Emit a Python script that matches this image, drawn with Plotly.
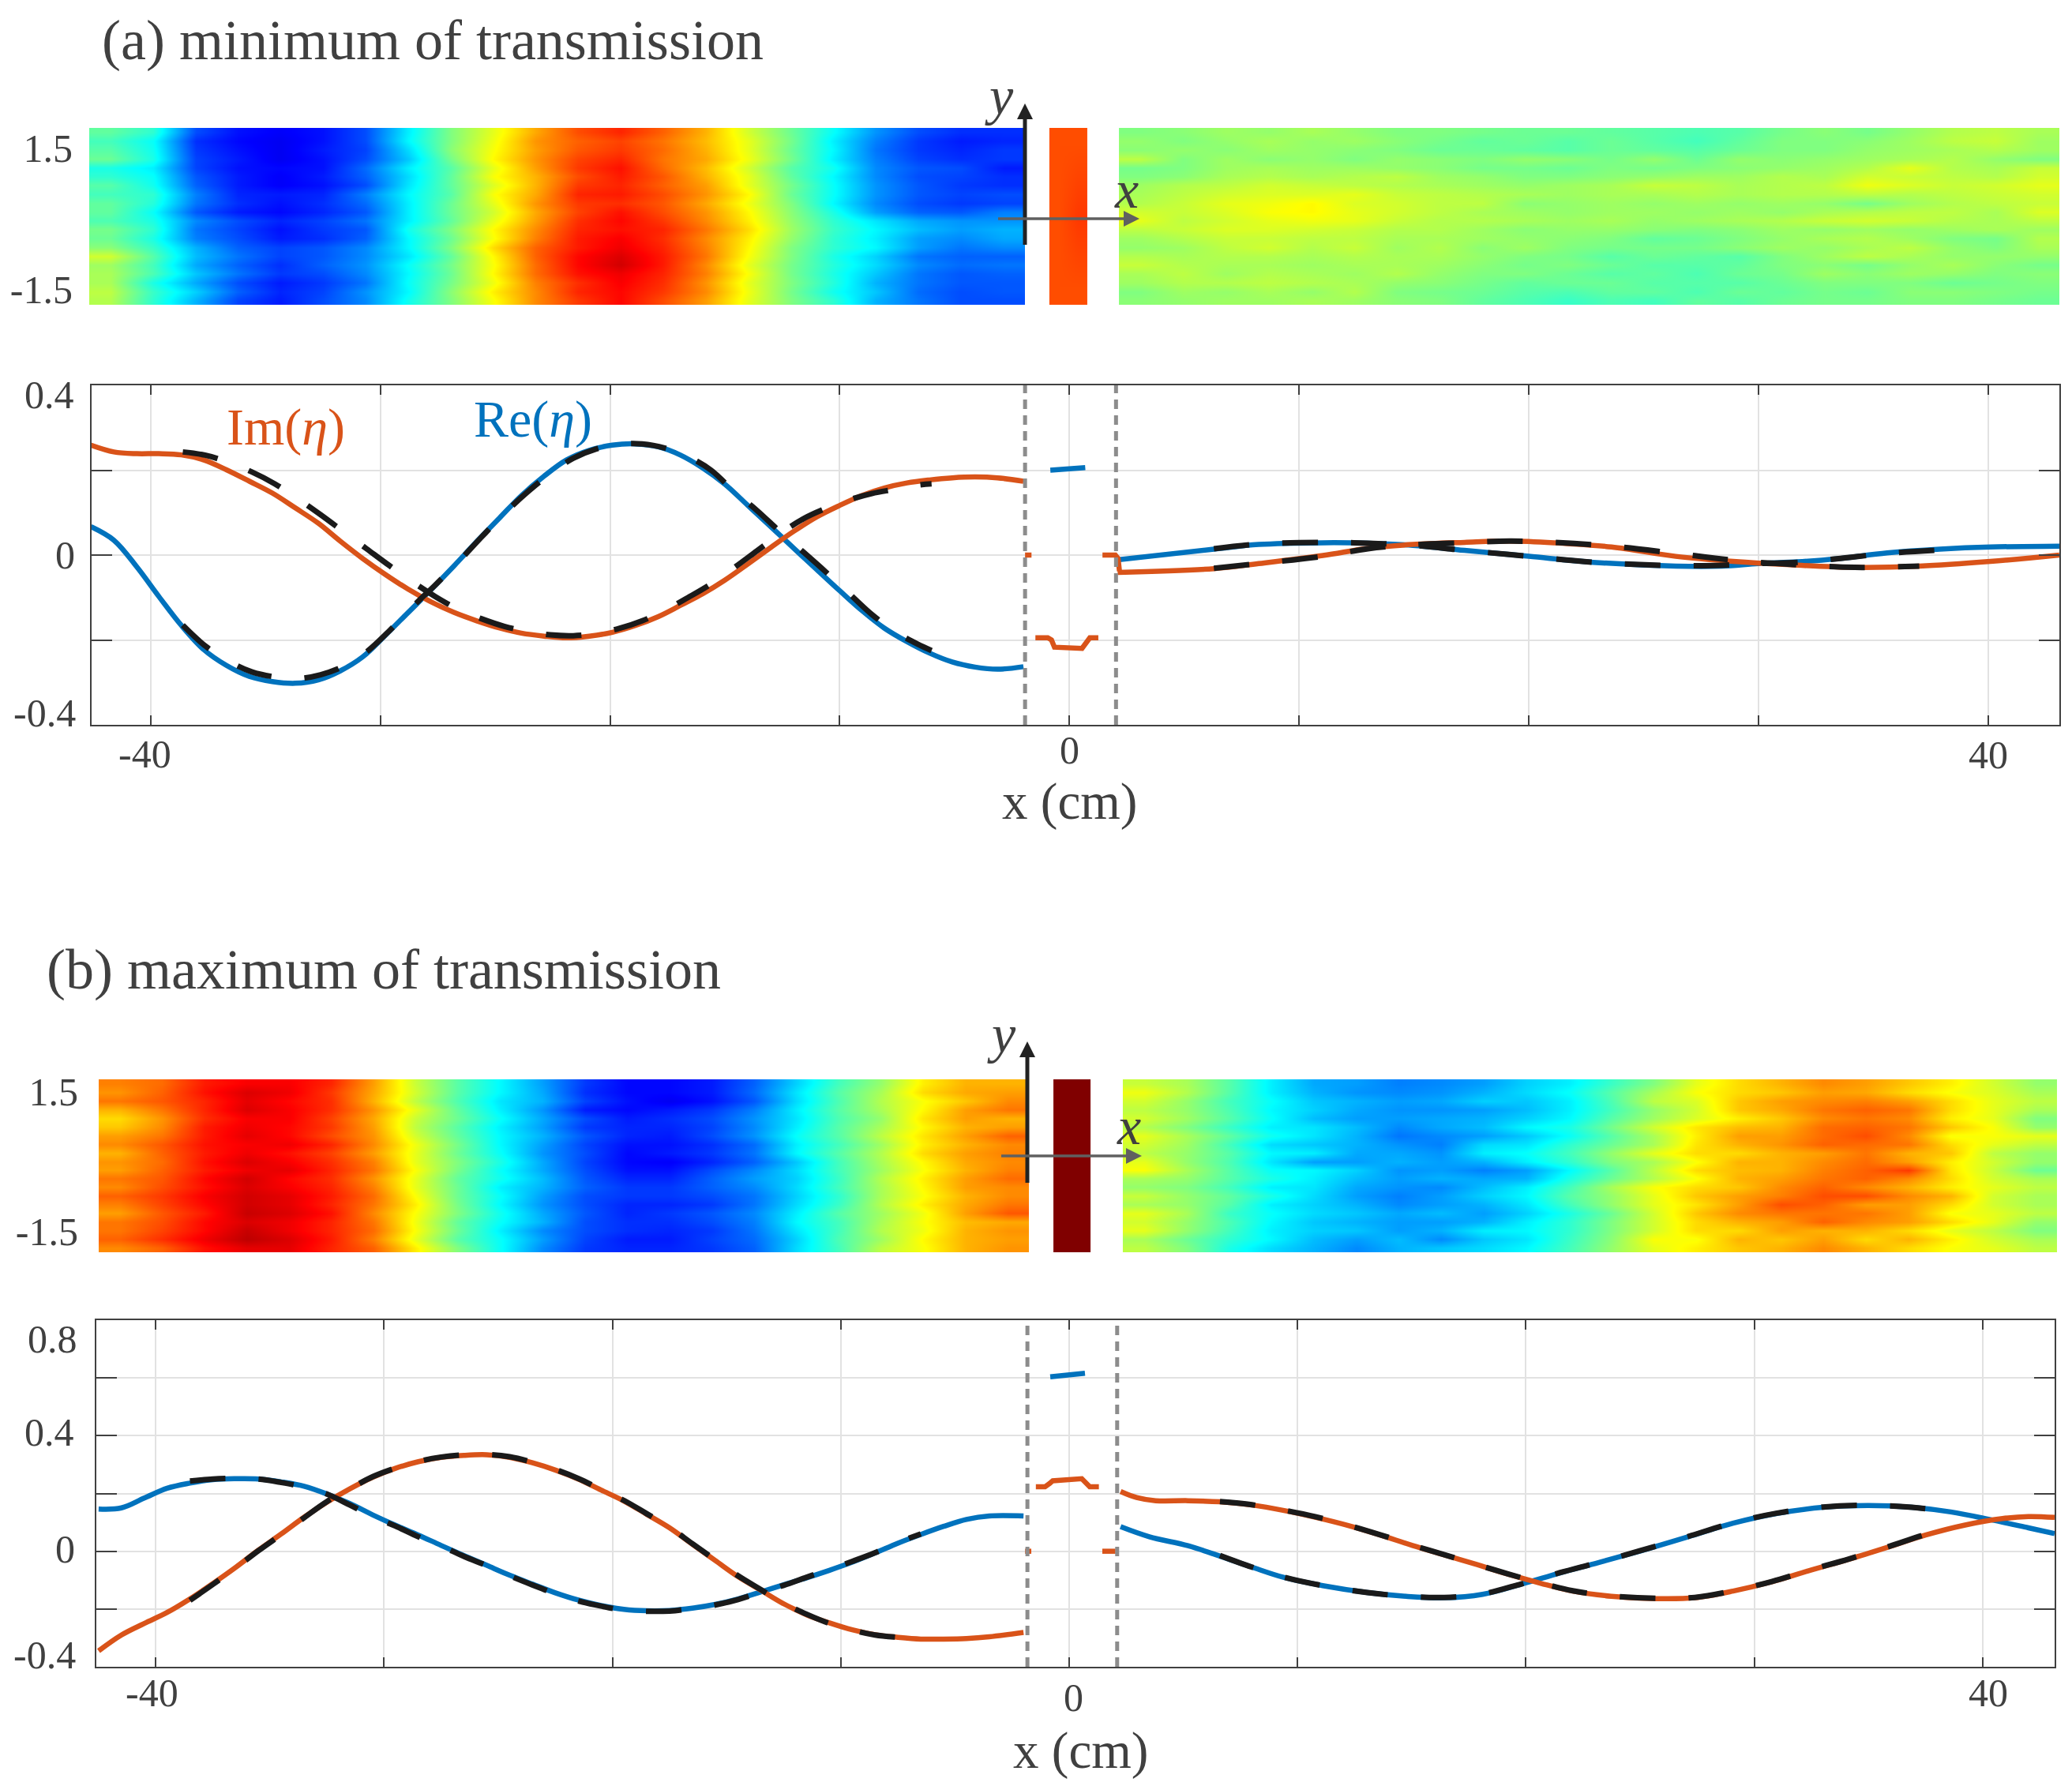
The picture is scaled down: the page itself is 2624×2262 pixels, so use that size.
"""Field maps and eta(x) profiles at the minimum and maximum of transmission."""
import numpy as np
import plotly.graph_objects as go

W, H = 2624, 2262
FONT = "Liberation Serif"
TXT = "#404040"
C_RE = "#0072BD"
C_IM = "#D95319"
C_EXP = "#1a1a1a"

JET = [[0, "rgb(0,0,143)"], [0.125, "rgb(0,0,255)"], [0.375, "rgb(0,255,255)"],
       [0.5, "rgb(128,255,128)"], [0.625, "rgb(255,255,0)"], [0.875, "rgb(255,0,0)"],
       [1, "rgb(128,0,0)"]]

# field maps, jet level 0-100, rows listed from top to bottom
MAP_A_LEFT = [
    [47,42,20,14,12,14,20,36,50,60,71,80,84,78,70,58,48,38,27,20,17,17],
    [44,38,17,13,11,14,20,37,50,61,73,78,81,76,69,60,49,36,25,18,15,16],
    [46,39,18,14,11,15,19,34,51,62,72,79,82,77,70,60,48,37,24,18,16,18],
    [48,40,19,15,11,14,20,32,49,63,73,81,84,76,71,61,49,36,25,19,17,18],
    [40,36,19,14,13,14,23,36,46,60,72,82,86,77,69,58,46,39,26,21,20,15],
    [42,38,21,15,12,15,22,34,47,62,70,80,85,79,70,60,47,37,26,20,19,17],
    [46,39,22,15,12,14,20,35,47,59,70,82,84,78,72,60,49,38,27,21,18,17],
    [44,42,25,16,15,16,25,37,46,62,71,84,85,80,73,63,48,38,27,21,19,20],
    [47,41,24,17,14,17,23,36,48,60,73,82,83,79,71,61,50,37,26,20,18,19],
    [47,38,21,15,13,16,21,36,48,58,71,81,86,80,73,63,51,40,28,22,21,25],
    [45,40,26,20,16,19,24,36,47,60,72,83,87,82,74,64,52,42,35,29,27,27],
    [49,42,24,19,14,18,21,39,50,63,74,84,86,84,76,66,53,43,37,31,28,30],
    [48,40,25,20,15,17,22,37,48,62,75,85,88,83,74,64,52,42,36,28,26,29],
    [51,43,30,22,19,21,26,37,50,66,78,85,89,84,75,63,50,42,37,28,24,26],
    [58,46,31,24,19,21,26,35,47,63,78,87,91,85,76,62,50,40,33,24,22,22],
    [53,44,29,22,17,22,27,38,49,62,77,87,92,85,74,60,49,41,34,26,23,24],
    [54,45,32,24,18,20,26,37,48,63,77,86,89,84,75,62,49,40,32,24,21,22],
    [54,40,29,20,15,18,24,38,49,61,75,83,88,83,73,60,50,41,30,24,21,21],
    [56,43,33,22,16,19,27,37,51,64,74,84,87,82,74,61,49,39,32,23,20,21],
    [55,42,30,19,15,20,26,39,50,62,74,82,87,80,72,60,50,42,30,24,20,20],
]
MAP_A_MID = [[80,80],[80,81],[80,82],[80,81],[80,80]]
MAP_A_RIGHT = [
    [50,51,53,52,54,52,50,50,49,48,48,47,46,45,46,49,51,49,52,55,56,54],
    [52,50,52,54,52,53,51,49,47,48,46,48,46,44,47,50,50,51,53,56,57,53],
    [51,52,51,53,52,51,50,48,48,47,46,48,47,46,48,50,50,52,53,54,55,53],
    [56,50,53,51,52,50,52,51,50,52,51,49,52,48,52,51,52,53,54,55,52,50],
    [49,50,53,54,53,53,52,51,49,49,48,50,49,50,51,52,53,55,60,55,54,57],
    [50,51,54,55,54,55,56,53,52,50,50,51,52,53,53,55,54,58,57,56,55,58],
    [53,55,56,58,57,56,55,54,53,52,53,54,57,56,54,55,56,61,59,57,58,60],
    [54,56,58,59,59,60,57,56,55,54,53,54,54,55,54,55,55,56,55,56,57,58],
    [55,57,60,61,63,59,58,56,56,51,52,53,52,53,52,53,52,49,53,55,56,57],
    [58,57,59,62,63,60,58,56,54,53,52,53,53,52,53,52,54,55,56,56,54,59],
    [60,56,58,60,61,60,57,55,55,54,53,54,52,53,54,55,57,58,57,55,54,56],
    [56,57,59,59,58,57,55,55,53,51,52,52,51,50,51,53,52,53,52,53,54,53],
    [53,55,57,57,56,56,54,54,53,52,51,50,47,48,50,52,54,55,53,50,49,55],
    [52,53,56,58,55,57,53,55,51,53,50,49,49,49,51,53,52,54,56,52,50,54],
    [55,54,55,55,54,55,54,54,52,50,49,46,48,47,46,50,53,56,54,52,52,52],
    [57,55,54,54,53,54,54,53,51,49,50,48,46,46,47,50,51,49,52,54,51,49],
    [54,56,53,55,54,53,55,52,50,50,48,46,47,45,48,49,53,51,53,52,50,51],
    [53,55,55,56,55,54,52,51,49,47,48,48,46,46,46,48,50,50,50,48,49,50],
    [50,53,52,54,52,55,50,49,48,46,45,47,47,45,48,47,49,48,51,51,50,49],
    [51,52,53,53,54,53,51,50,47,45,43,45,44,47,46,48,49,49,50,50,49,48],
]
MAP_B_LEFT = [
    [75,77,85,88,88,84,72,57,46,37,28,18,13,13,15,22,33,44,52,64,70,70],
    [73,78,86,91,89,82,71,58,46,37,29,17,13,13,15,23,35,46,54,66,71,72],
    [76,79,84,90,87,83,70,56,45,35,30,19,14,11,14,21,34,45,55,62,68,74],
    [70,76,84,91,88,83,73,60,47,36,27,15,13,15,18,25,36,46,54,63,72,76],
    [66,73,83,88,88,81,71,57,48,38,29,20,15,17,20,27,35,45,52,65,72,70],
    [68,74,85,89,87,82,72,56,46,36,28,18,16,16,19,26,36,46,54,63,70,72],
    [72,76,85,90,87,80,73,58,47,37,30,21,16,15,20,27,38,46,56,65,72,78],
    [74,79,86,88,89,84,74,61,49,37,28,19,14,14,17,23,36,44,53,64,70,74],
    [70,78,85,89,86,81,72,60,48,38,27,20,13,15,18,24,37,46,55,66,72,75],
    [73,77,86,91,88,83,75,60,50,40,29,19,13,12,16,22,32,44,54,63,71,74],
    [72,78,85,89,90,84,76,62,49,38,29,20,14,14,20,26,34,44,53,62,70,75],
    [76,79,87,92,87,83,73,60,47,39,31,21,16,16,22,28,33,43,55,64,72,77],
    [74,80,86,91,88,84,75,60,48,36,30,22,18,18,22,26,34,44,54,63,72,74],
    [78,82,88,92,90,85,77,62,48,38,28,20,18,18,20,24,33,42,54,62,70,74],
    [75,81,87,92,90,84,76,64,49,37,27,20,16,16,18,24,34,43,55,64,71,76],
    [72,79,85,93,91,86,74,62,50,39,29,21,16,18,21,26,36,46,53,61,72,79],
    [76,80,87,91,89,84,76,61,47,38,30,20,17,17,20,25,37,44,54,62,69,71],
    [76,81,87,93,89,84,77,62,48,36,26,20,17,16,18,24,35,44,55,61,70,73],
    [78,83,89,94,91,85,75,60,46,38,28,19,15,15,19,23,33,45,53,63,70,72],
    [74,78,86,90,90,84,78,64,50,38,26,18,16,16,18,22,34,44,56,62,70,73],
]
MAP_B_MID = [[100,100],[100,100]]
MAP_B_RIGHT = [
    [57,54,46,36,29,28,25,26,28,33,36,43,50,60,66,70,74,72,68,64,58,52],
    [61,55,46,36,30,27,26,27,30,34,38,46,54,62,66,68,72,71,66,62,59,54],
    [58,52,44,38,32,30,28,29,33,32,36,45,56,59,68,72,74,75,72,66,60,56],
    [56,52,45,37,33,29,27,27,28,31,36,44,52,58,68,71,76,78,76,66,60,54],
    [58,53,46,38,31,28,28,29,30,33,37,46,53,59,64,68,74,76,74,64,60,50],
    [55,50,43,36,35,31,26,29,31,37,40,49,58,65,69,70,77,78,76,68,62,52],
    [60,54,47,39,35,30,24,26,28,32,38,46,54,64,72,72,77,80,74,62,62,60],
    [58,53,44,34,32,30,27,25,34,35,42,48,54,65,70,73,78,77,76,66,60,56],
    [56,52,46,37,36,29,29,27,36,38,44,52,60,66,66,70,72,76,70,68,56,52],
    [60,52,45,35,28,28,30,28,30,36,42,50,54,62,70,70,74,77,72,64,58,52],
    [62,54,46,38,37,33,27,28,25,28,37,46,56,66,69,70,75,78,82,65,57,48],
    [54,52,46,40,36,31,28,30,29,30,40,48,55,62,70,72,76,78,74,66,58,54],
    [52,50,44,36,35,29,27,26,31,36,44,54,62,66,68,74,78,74,70,64,60,56],
    [57,52,47,40,34,28,25,28,33,37,46,52,60,68,72,75,80,80,74,70,58,54],
    [54,52,46,36,33,30,26,28,30,35,44,52,60,65,72,80,78,72,72,66,58,54],
    [60,54,43,38,34,32,29,31,28,33,40,48,58,68,74,76,76,76,72,62,60,56],
    [58,52,45,37,32,30,28,28,30,36,42,50,58,66,70,72,78,74,72,66,60,52],
    [60,52,44,36,33,32,28,30,36,37,42,50,58,66,66,72,70,70,66,60,56,50],
    [54,48,42,37,31,28,31,26,32,35,43,51,62,62,70,68,72,66,70,64,58,54],
    [56,50,40,34,30,26,30,32,34,37,44,52,60,64,68,70,74,70,66,62,60,56],
]

# panel (a) profiles
A_X_L = [-42.6,-41.6,-40.6,-39.65,-38.66,-37.68,-36.7,-35.7,-34.7,-33.7,-32.7,-31.75,-30.77,-29.8,
         -28.8,-27.8,-26.8,-25.8,-24.8,-23.86,-22.87,-21.9,-20.9,-19.9,-18.9,-17.9,-16.95,-15.96,
         -15.0,-14.0,-13.0,-12.0,-11.0,-10.0,-9.05,-8.06,-7.07,-6.09,-5.1,-4.11,-3.13,-2.0]
A_RE_L = [.067,.035,-.028,-.097,-.166,-.223,-.26,-.286,-.298,-.302,-.294,-.273,-.24,-.19,-.136,
          -.082,-.026,.032,.088,.14,.186,.224,.247,.259,.262,.255,.236,.205,.167,.117,.067,.016,
          -.034,-.084,-.13,-.172,-.204,-.231,-.252,-.264,-.269,-.263]
A_IM_L = [.259,.243,.239,.239,.236,.224,.201,.174,.146,.111,.075,.033,-.008,-.045,-.08,-.11,
          -.135,-.155,-.172,-.184,-.191,-.195,-.191,-.182,-.166,-.145,-.119,-.091,-.059,-.021,
          .018,.056,.09,.117,.14,.158,.17,.177,.182,.184,.182,.174]
A_XE_L = [-38.6,-37.6,-36.6,-35.6,-34.6,-33.6,-32.6,-31.6,-30.6,-29.6,-28.6,-27.6,-26.6,-25.6,
          -24.6,-23.6,-22.6,-21.6,-20.6,-19.6,-18.6,-17.6,-16.6,-15.6,-14.6,-13.6,-12.6,-11.6,
          -10.6,-9.6,-8.6,-7.6,-6.6,-6.0]
A_RE_EXP_L = [-.165,-.215,-.25,-.275,-.287,-.291,-.282,-.262,-.228,-.178,-.122,-.07,-.016,.042,
              .098,.148,.192,.228,.25,.261,.262,.252,.232,.2,.15,.105,.055,.008,-.04,-.09,-.14,
              -.18,-.21,-.225]
A_IM_EXP_L = [.243,.235,.218,.196,.168,.133,.095,.055,.015,-.025,-.063,-.098,-.128,-.15,-.168,-.18,
              -.188,-.19,-.185,-.173,-.155,-.13,-.1,-.068,-.03,.01,.05,.085,.11,.13,.145,.155,
              .165,.168]
A_X_MID_RE = [-.83, .69]
A_RE_MID = [.2, .206]
A_X_MID_IM = [-1.48,-.94,-.78,-.65,.55,.72,.89,1.26]
A_IM_MID = [-.195,-.195,-.2,-.217,-.22,-.205,-.195,-.195]
A_X_EDGE_L = [-1.93, -1.65]
A_X_EDGE_R = [1.44, 2.0, 2.12, 2.18]
A_IM_EDGE_R = [0, 0, -.008, -.038]
A_EDGE_L = [0, 0]
A_X_RE_R = [2.1,6.29,8.24,11.04,13.0,14.95,17.2,20,22.8,26.4,28.4,30,31.7,33.4,35.6,37.9,40.1,43.1]
A_RE_R = [-.011,.014,.025,.029,.028,.023,.011,-.003,-.017,-.026,-.026,-.02,-.016,-.009,.005,.014,.019,.021]
A_X_IM_R = [2.1,6.29,8.24,11.04,13,14.95,17.2,19.15,21.1,23.6,26.4,28.9,31.4,34.2,37,40.1,43.1]
A_IM_R = [-.041,-.032,-.02,-.001,.016,.025,.03,.033,.029,.019,-.003,-.015,-.023,-.029,-.026,-.015,0]
A_XE_RE_R = [6.29,8.24,11.04,13.0,14.95,17.2,20,22.8,26.4,28.4,30,31.7,33.4,35.6,37.9]
A_RE_EXP_R = [.015,.026,.03,.028,.023,.011,-.003,-.017,-.025,-.024,-.02,-.017,-.009,.004,.012]
A_XE_IM_R = [6.29,8.24,11.04,13,14.95,17.2,19.15,21.1,23.6,26.4,28.9,31.4,34.2,37]
A_IM_EXP_R = [-.031,-.02,-.003,.015,.024,.029,.033,.03,.021,.004,-.012,-.022,-.029,-.026]

# panel (b) profiles
B_X_L = [-42.5,-41.5,-40.5,-39.5,-38.5,-37.5,-36.5,-35.5,-34.5,-33.5,-32.5,-31.5,-30.5,-29.5,
         -28.5,-27.5,-26.5,-25.5,-24.5,-23.5,-22.5,-21.5,-20.5,-19.5,-18.5,-17.5,-16.5,-15.5,
         -14.5,-13.5,-12.5,-11.5,-10.5,-9.5,-8.5,-7.5,-6.5,-5.5,-4.5,-3.5,-2.0]
B_RE_L = [.146,.15,.184,.218,.236,.248,.251,.25,.24,.225,.198,.165,.126,.09,.056,.02,-.015,
          -.049,-.083,-.114,-.144,-.169,-.188,-.201,-.206,-.205,-.197,-.184,-.165,-.141,-.116,
          -.092,-.066,-.038,-.006,.028,.058,.086,.11,.122,.122]
B_IM_L = [-.345,-.29,-.25,-.212,-.165,-.112,-.056,.004,.06,.118,.17,.216,.256,.287,.31,.325,
          .332,.334,.325,.306,.281,.25,.212,.174,.128,.081,.024,-.032,-.088,-.135,-.182,-.22,
          -.248,-.272,-.289,-.298,-.304,-.304,-.302,-.296,-.281]
B_XE_L = [-38.5,-37.5,-36.5,-35.5,-34.5,-33.5,-32.5,-31.5,-30.5,-29.5,-28.5,-27.5,-26.5,-25.5,
          -24.5,-23.5,-22.5,-21.5,-20.5,-19.5,-18.5,-17.5,-16.5,-15.5,-14.5,-13.5,-12.5,-11.5,
          -10.5,-9.5,-8.5,-7.5,-6.5]
B_RE_EXP_L = [.243,.25,.252,.25,.238,.222,.198,.16,.12,.087,.05,.018,-.018,-.05,-.085,-.117,-.147,
              -.172,-.19,-.204,-.208,-.207,-.198,-.186,-.167,-.142,-.118,-.09,-.063,-.035,-.005,
              .03,.06]
B_IM_EXP_L = [-.17,-.115,-.058,.002,.058,.116,.172,.216,.258,.288,.311,.326,.334,.335,.327,.308,
              .283,.252,.214,.176,.13,.083,.026,-.03,-.085,-.133,-.18,-.218,-.25,-.273,-.29,-.298,-.303]
B_X_MID_RE = [-.83, .69]
B_RE_MID = [.604, .616]
B_X_MID_IM = [-1.46,-1.06,-.85,-.72,.55,.72,.9,1.3]
B_IM_MID = [.223,.223,.235,.244,.251,.24,.223,.223]
B_X_EDGE_L = [-1.93, -1.66]
B_X_EDGE_R = [1.45, 2.03]
B_EDGE = [0, 0]
B_X_IM_R = [2.25,2.95,3.79,5.2,6.6,8.0,9.41,10.81,12.22,13.62,15.03,16.43,17.84,19.24,20.65,22.05,
            23.74,25.7,27.39,29.07,30.76,32.44,34.13,35.81,37.5,39.19,40.87,42,43.15]
B_IM_R = [.207,.186,.175,.175,.171,.16,.141,.117,.089,.056,.02,-.013,-.046,-.08,-.111,-.138,-.156,
          -.164,-.161,-.138,-.106,-.066,-.028,.013,.056,.09,.113,.12,.117]
B_X_RE_R = [2.25,3.51,5.2,6.6,8,9.41,11.1,13.06,14.75,16.43,18.1,19.8,21.5,23.2,25.1,27.1,29.07,31,
            33,35,36.9,38.6,40.3,42,43.15]
B_RE_R = [.085,.05,.019,-.017,-.055,-.091,-.119,-.143,-.156,-.161,-.149,-.114,-.075,-.039,.003,.05,
          .097,.131,.152,.158,.152,.136,.11,.081,.061]
B_XE_RE_R = [6.6,8,9.41,11.1,13.06,14.75,16.43,18.1,19.8,21.5,23.2,25.1,27.1,29.07,31,33,35,36.9,38.6]
B_RE_EXP_R = [-.015,-.055,-.09,-.119,-.143,-.156,-.16,-.148,-.113,-.074,-.038,.004,.051,.098,.132,
              .153,.159,.152,.137]
B_XE_IM_R = [6.6,8,9.41,10.81,12.22,13.62,15.03,16.43,17.84,19.24,20.65,22.05,23.74,25.7,27.39,29.07,
             30.76,32.44,34.13,35.81,37.5,38.6]
B_IM_EXP_R = [.172,.161,.142,.119,.09,.057,.021,-.012,-.046,-.079,-.11,-.137,-.155,-.163,-.16,-.137,
              -.105,-.065,-.027,.014,.058,.08]

X_TICKS = [-40, -30, -20, -10, 0, 10, 20, 30, 40]
A_Y_TICKS = [-0.4, -0.2, 0, 0.2, 0.4]
B_Y_TICKS = [-0.4, -0.2, 0, 0.2, 0.4, 0.6, 0.8]
STRIP_TICKS = [-1.5, 1.5]
STRIP_LABELS = ["-1.5", "1.5"]


def px(x):
    return x / W


def py(y):
    return 1 - y / H


fig = go.Figure()


def add_map(z, x_from, x_to, y_top, y_bot, n):
    z = np.array(z)
    fig.add_trace(go.Heatmap(
        z=z, x=np.linspace(x_from, x_to, z.shape[1] + 1), y=np.linspace(y_top, y_bot, z.shape[0] + 1),
        zmin=0, zmax=100, zsmooth="best", colorscale=JET, showscale=False,
        xaxis=f"x{n}", yaxis=f"y{n}", hoverinfo="skip"))


def add_line(x, y, color, n, dashed=False, shape="spline", width=6.5):
    line = dict(color=color, width=width, shape=shape)
    if dashed:
        line["dash"] = "45px,42px"
        line["width"] = 7
    fig.add_trace(go.Scatter(x=x, y=y, mode="lines", line=line, showlegend=False,
                             xaxis=f"x{n}", yaxis=f"y{n}", hoverinfo="skip"))


# (a) field map
A_TOP, A_BOT = 1.917, -1.817
add_map(MAP_A_LEFT, -42.68, -1.93, A_TOP, A_BOT, 1)
add_map(MAP_A_MID, -0.86, 0.79, A_TOP, A_BOT, 1)
add_map(MAP_A_RIGHT, 2.17, 43.13, A_TOP, A_BOT, 1)

# (a) profiles
add_line(A_X_L, A_RE_L, C_RE, 2)
add_line(A_X_L, A_IM_L, C_IM, 2)
add_line(A_X_RE_R, A_RE_R, C_RE, 2)
add_line(A_X_IM_R, A_IM_R, C_IM, 2)
add_line(A_X_MID_RE, A_RE_MID, C_RE, 2, shape="linear")
add_line(A_X_MID_IM, A_IM_MID, C_IM, 2, shape="linear")
add_line(A_X_EDGE_L, A_EDGE_L, C_IM, 2, shape="linear")
add_line(A_X_EDGE_R, A_IM_EDGE_R, C_IM, 2, shape="linear")
add_line(A_XE_L, A_RE_EXP_L, C_EXP, 2, dashed=True)
add_line(A_XE_L, A_IM_EXP_L, C_EXP, 2, dashed=True)
add_line(A_XE_RE_R, A_RE_EXP_R, C_EXP, 2, dashed=True)
add_line(A_XE_IM_R, A_IM_EXP_R, C_EXP, 2, dashed=True)

# (b) field map
B_TOP, B_BOT = 1.772, -1.959
add_map(MAP_B_LEFT, -42.5, -1.76, B_TOP, B_BOT, 3)
add_map(MAP_B_MID, -0.69, 0.93, B_TOP, B_BOT, 3)
add_map(MAP_B_RIGHT, 2.35, 43.26, B_TOP, B_BOT, 3)

# (b) profiles
add_line(B_X_L, B_RE_L, C_RE, 4)
add_line(B_X_L, B_IM_L, C_IM, 4)
add_line(B_X_RE_R, B_RE_R, C_RE, 4)
add_line(B_X_IM_R, B_IM_R, C_IM, 4)
add_line(B_X_MID_RE, B_RE_MID, C_RE, 4, shape="linear")
add_line(B_X_MID_IM, B_IM_MID, C_IM, 4, shape="linear")
add_line(B_X_EDGE_L, B_EDGE, C_IM, 4, shape="linear")
add_line(B_X_EDGE_R, B_EDGE, C_IM, 4, shape="linear")
add_line(B_XE_L, B_RE_EXP_L, C_EXP, 4, dashed=True)
add_line(B_XE_L, B_IM_EXP_L, C_EXP, 4, dashed=True)
add_line(B_XE_RE_R, B_RE_EXP_R, C_EXP, 4, dashed=True)
add_line(B_XE_IM_R, B_IM_EXP_R, C_EXP, 4, dashed=True)


def strip_axes(n, left, right, top, bot, xr, yr, standoff):
    xa = dict(domain=[px(left), px(right)], range=xr, visible=False, anchor=f"y{n}")
    ya = dict(domain=[py(bot), py(top)], range=yr, showgrid=False, zeroline=False, showline=False,
              ticks="", tickmode="array", tickvals=STRIP_TICKS, ticktext=STRIP_LABELS, anchor=f"x{n}",
              ticklabelstandoff=standoff, tickfont=dict(family=FONT, size=50, color=TXT))
    return xa, ya


def plot_axes(n, left, right, top, bot, xr, yr, yticks):
    common = dict(showgrid=True, gridcolor="#e2e2e2", gridwidth=2, zeroline=False, showline=True,
                  linecolor="#404040", linewidth=2, mirror="ticks", ticks="inside",
                  tickcolor="#404040", tickwidth=2, showticklabels=False)
    xa = dict(domain=[px(left), px(right)], range=xr, tickmode="array", tickvals=X_TICKS, ticklen=12,
              anchor=f"y{n}", **common)
    ya = dict(domain=[py(bot), py(top)], range=yr, tickmode="array", tickvals=yticks, ticklen=26,
              anchor=f"x{n}", **common)
    return xa, ya


xa1, ya1 = strip_axes(1, 113, 2608, 162, 386, [-42.68, 43.13], [A_BOT, A_TOP], 20)
xa2, ya2 = plot_axes(2, 116, 2608, 488, 918, [-42.57, 43.1], [-0.4, 0.4], A_Y_TICKS)
xa3, ya3 = strip_axes(3, 125, 2605, 1367, 1586, [-42.5, 43.26], [B_BOT, B_TOP], 25)
xa4, ya4 = plot_axes(4, 122, 2602, 1672, 2111, [-42.6, 43.15], [-0.4, 0.8], B_Y_TICKS)


def txt(text, x, y, size, color=TXT, anchor="center"):
    return dict(text=text, x=px(x), y=py(y), xref="paper", yref="paper", showarrow=False,
                xanchor=anchor, yanchor="middle", font=dict(family=FONT, size=size, color=color))


annotations = [
    txt("(a) minimum of transmission", 127, 51, 72, anchor="left"),
    txt("(b) maximum of transmission", 57, 1228, 72, anchor="left"),
    txt("Im(<i>η</i>)", 362, 541, 66, C_IM),
    txt("Re(<i>η</i>)", 675, 531, 66, C_RE),
    txt("0.4", 62, 500, 50), txt("0", 82, 703, 50), txt("-0.4", 56, 903, 50),
    txt("-40", 183, 955, 50), txt("0", 1354, 950, 50), txt("40", 2518, 956, 50),
    txt("x (cm)", 1354, 1015, 65),
    txt("0.8", 66, 1696, 50), txt("0.4", 62, 1814, 50), txt("0", 82, 1962, 50), txt("-0.4", 56, 2096, 50),
    txt("-40", 192, 2144, 50), txt("0", 1359, 2150, 50), txt("40", 2518, 2144, 50),
    txt("x (cm)", 1368, 2217, 65),
    txt("<i>y</i>", 1265, 122, 68), txt("<i>x</i>", 1426, 240, 68),
    txt("<i>y</i>", 1268, 1310, 68), txt("<i>x</i>", 1429, 1426, 68),
]


def arrow_shapes(x_y, y_from, y_tip, x_from, x_tip, y_x):
    """y arrow (black) and x arrow (grey) over a field map, in page pixels."""
    out = []
    out.append(dict(type="line", xref="paper", yref="paper", x0=px(x_y), x1=px(x_y),
                    y0=py(y_from), y1=py(y_tip + 15), line=dict(color="#222222", width=5)))
    out.append(dict(type="path", xref="paper", yref="paper", fillcolor="#222222", line=dict(width=0),
                    path=f"M {px(x_y - 10)} {py(y_tip + 20)} L {px(x_y + 10)} {py(y_tip + 20)} "
                         f"L {px(x_y)} {py(y_tip)} Z"))
    out.append(dict(type="line", xref="paper", yref="paper", x0=px(x_from), x1=px(x_tip - 15),
                    y0=py(y_x), y1=py(y_x), line=dict(color="#606060", width=3.5)))
    out.append(dict(type="path", xref="paper", yref="paper", fillcolor="#606060", line=dict(width=0),
                    path=f"M {px(x_tip - 20)} {py(y_x - 10)} L {px(x_tip - 20)} {py(y_x + 10)} "
                         f"L {px(x_tip)} {py(y_x)} Z"))
    return out


def wall(x, n, ybot, ytop):
    return dict(type="line", xref=f"x{n}", yref=f"y{n}", x0=x, x1=x, y0=ybot, y1=ytop,
                line=dict(color="#8c8c8c", width=5, dash="12px,8px"))


shapes = arrow_shapes(1298, 310, 131, 1264, 1443, 277) + arrow_shapes(1301, 1498, 1319, 1268, 1446, 1464)
shapes += [wall(-1.93, 2, -0.4, 0.4), wall(2.03, 2, -0.4, 0.4),
           wall(-1.83, 4, -0.4, 0.8), wall(2.1, 4, -0.4, 0.8)]

fig.update_layout(
    width=W, height=H, margin=dict(l=0, r=0, t=0, b=0, autoexpand=False), autosize=False,
    paper_bgcolor="white", plot_bgcolor="white", showlegend=False,
    font=dict(family=FONT, color=TXT),
    xaxis=xa1, yaxis=ya1, xaxis2=xa2, yaxis2=ya2, xaxis3=xa3, yaxis3=ya3, xaxis4=xa4, yaxis4=ya4,
    annotations=annotations, shapes=shapes,
)

fig.write_html("out.html", config={"displayModeBar": False},
               post_script="document.body.style.margin='0';")
